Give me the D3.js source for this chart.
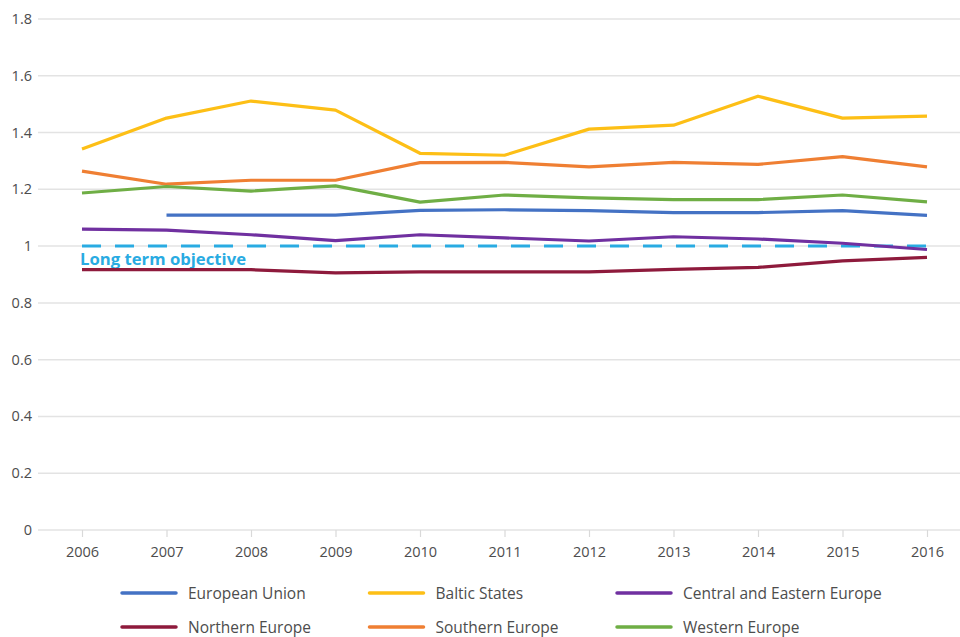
<!DOCTYPE html>
<html>
<head>
<meta charset="utf-8">
<script src="https://cdn.jsdelivr.net/npm/d3@7"></script>
<style>
  html, body { margin: 0; padding: 0; background: #fff; }
  svg { display: block; font-family: "Open Sans", sans-serif; }
</style>
</head>
<body>
<svg id="chart" width="960" height="637"></svg>
<script>
// Data
const years = [2006, 2007, 2008, 2009, 2010, 2011, 2012, 2013, 2014, 2015, 2016];
const europeanUnion = [null, 1.109, 1.109, 1.109, 1.126, 1.128, 1.125, 1.118, 1.118, 1.125, 1.108];
const balticStates = [1.342, 1.451, 1.511, 1.479, 1.327, 1.320, 1.412, 1.426, 1.528, 1.451, 1.458];
const centralEastern = [1.060, 1.056, 1.040, 1.019, 1.040, 1.029, 1.018, 1.033, 1.025, 1.010, 0.988];
const northernEurope = [0.917, 0.917, 0.917, 0.906, 0.909, 0.909, 0.909, 0.918, 0.925, 0.948, 0.960];
const southernEurope = [1.264, 1.218, 1.232, 1.232, 1.294, 1.295, 1.279, 1.295, 1.288, 1.315, 1.279];
const westernEurope = [1.187, 1.210, 1.194, 1.212, 1.155, 1.180, 1.170, 1.164, 1.164, 1.180, 1.156];
const objective = 1;
const yTicks = [0, 0.2, 0.4, 0.6, 0.8, 1, 1.2, 1.4, 1.6, 1.8];

const series = [
  { name: "European Union", values: europeanUnion, color: "#4472c4" },
  { name: "Baltic States", values: balticStates, color: "#fdbf16" },
  { name: "Central and Eastern Europe", values: centralEastern, color: "#7030a0" },
  { name: "Northern Europe", values: northernEurope, color: "#8e1a3c" },
  { name: "Southern Europe", values: southernEurope, color: "#ef7f33" },
  { name: "Western Europe", values: westernEurope, color: "#6fae45" }
];

const svg = d3.select("#chart");

// Scales
const x = d3.scalePoint().domain(years).range([82, 927]);
const y = d3.scaleLinear().domain([0, 1.8]).range([530, 19]);

// Gridlines
svg.append("g")
  .selectAll("line")
  .data(yTicks)
  .enter().append("line")
  .attr("x1", 38).attr("x2", 960)
  .attr("y1", d => y(d)).attr("y2", d => y(d))
  .attr("stroke", "#e3e3e3")
  .attr("stroke-width", 1.5);

// Y labels
svg.append("g")
  .selectAll("text")
  .data(yTicks)
  .enter().append("text")
  .attr("x", 32)
  .attr("y", d => y(d) + 5)
  .attr("text-anchor", "end")
  .attr("font-size", "14.5px")
  .attr("fill", "#4d4d4d")
  .text(d => d3.format("~g")(d));

// X axis
const xAxis = svg.append("g")
  .attr("transform", `translate(0,${y(0)})`)
  .call(d3.axisBottom(x).tickSize(7).tickPadding(10).tickFormat(d3.format("d")));
xAxis.select(".domain").remove();
xAxis.selectAll(".tick line").attr("stroke", "#d9d9d9").attr("stroke-width", 1.2);
xAxis.selectAll(".tick text")
  .attr("font-family", "Open Sans, sans-serif")
  .attr("font-size", "14.5px")
  .attr("fill", "#4d4d4d");

// Long term objective
svg.append("line")
  .attr("x1", x(years[0])).attr("x2", x(years[years.length - 1]))
  .attr("y1", y(objective)).attr("y2", y(objective))
  .attr("stroke", "#29abe2")
  .attr("stroke-width", 3)
  .attr("stroke-dasharray", "19,14");

svg.append("text")
  .attr("x", x(years[0]) - 2)
  .attr("y", y(objective) + 19)
  .attr("font-size", "15.5px")
  .attr("font-weight", 700)
  .attr("fill", "#29abe2")
  .attr("textLength", 166)
  .attr("lengthAdjust", "spacingAndGlyphs")
  .text("Long term objective");

// Lines
const line = d3.line()
  .defined(d => d.v != null)
  .x(d => x(d.year))
  .y(d => y(d.v));

svg.append("g")
  .selectAll("path")
  .data(series)
  .enter().append("path")
  .attr("d", s => line(years.map((yr, i) => ({ year: yr, v: s.values[i] }))))
  .attr("fill", "none")
  .attr("stroke", s => s.color)
  .attr("stroke-width", 3.2)
  .attr("stroke-linejoin", "round");

// Legend
const legend = svg.append("g")
  .selectAll("g")
  .data(series)
  .enter().append("g")
  .attr("transform", (d, i) => `translate(${122 + (i % 3) * 247.5},${593 + Math.floor(i / 3) * 34})`);

legend.append("line")
  .attr("x1", 0).attr("x2", 54)
  .attr("stroke", d => d.color)
  .attr("stroke-width", 3.5)
  .attr("stroke-linecap", "round");

legend.append("text")
  .attr("x", 66)
  .attr("y", 6)
  .attr("font-size", "15.5px")
  .attr("fill", "#4d4d4d")
  .text(d => d.name);
</script>
</body>
</html>
